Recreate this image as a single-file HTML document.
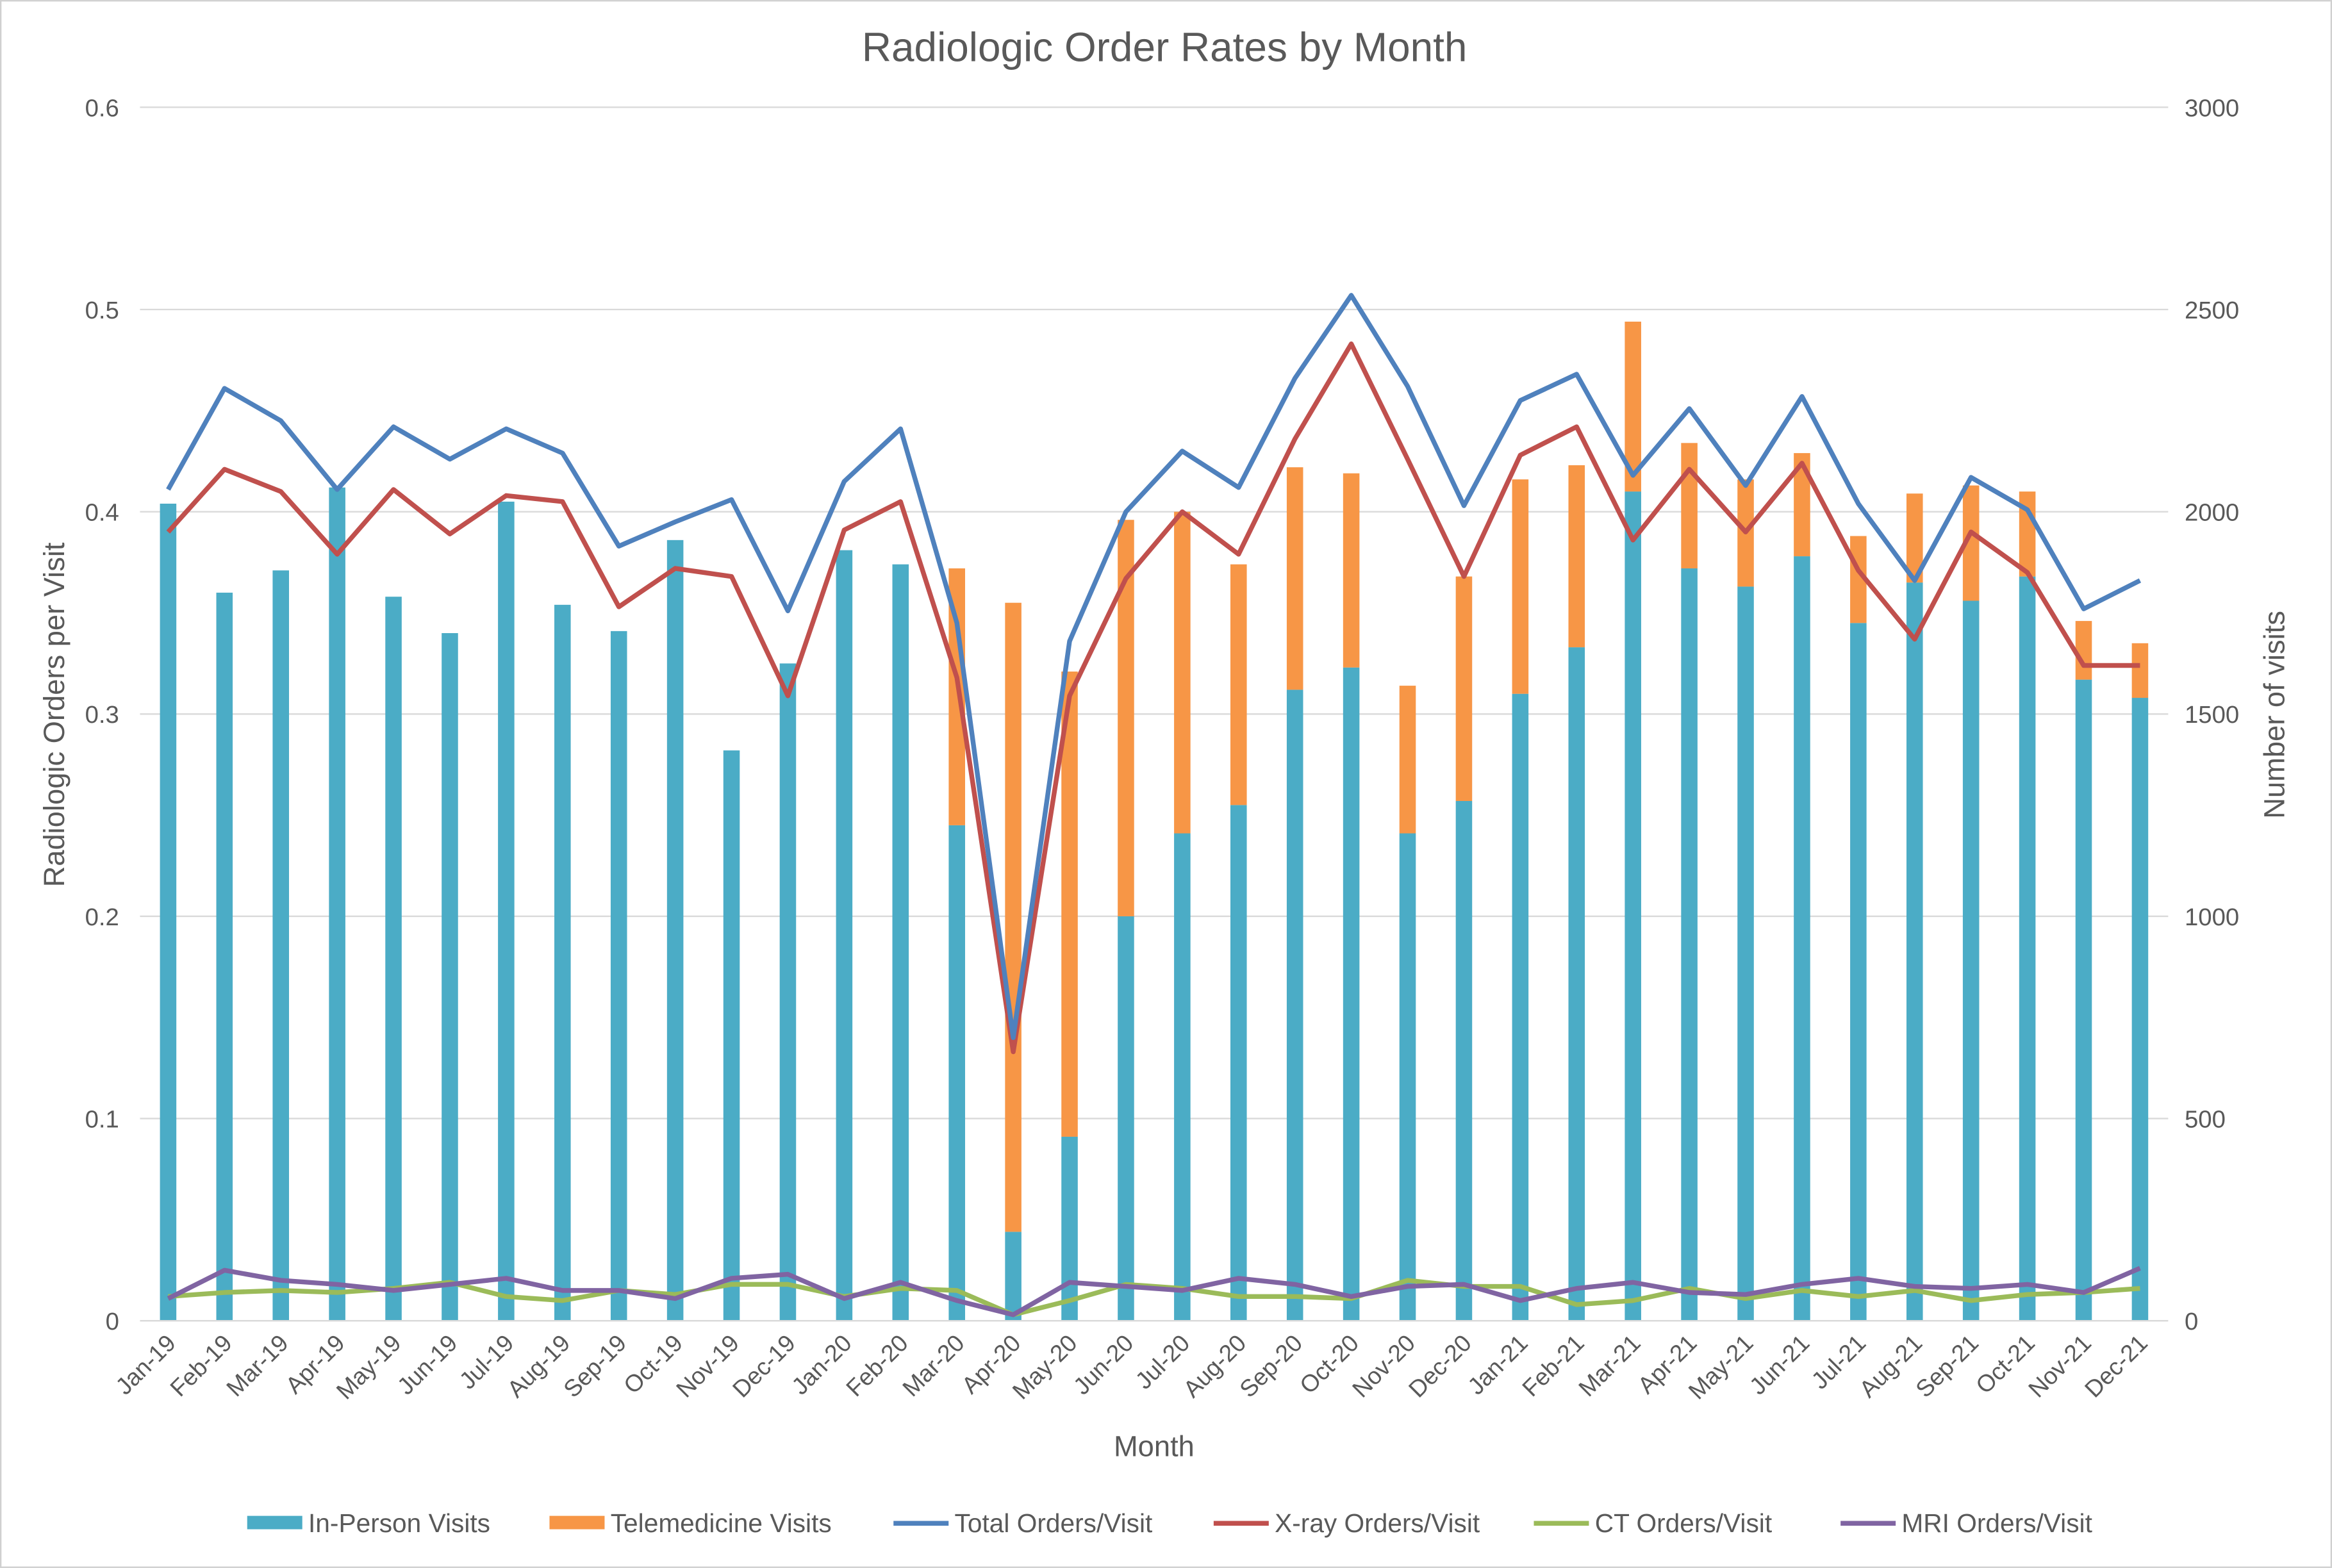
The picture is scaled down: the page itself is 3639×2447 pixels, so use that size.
<!DOCTYPE html>
<html><head><meta charset="utf-8"><style>
html,body{margin:0;padding:0;background:#fff;}
svg{display:block;font-family:"Liberation Sans",Arial,sans-serif;}
</style></head><body>
<svg id="chart" width="3639" height="2447" viewBox="0 0 1566 1053" xmlns="http://www.w3.org/2000/svg">
<rect x="0.5" y="0.5" width="1565" height="1052" fill="#fff" stroke="#d0d0d0"/>
<text x="782" y="41" text-anchor="middle" font-size="27.5" fill="#595959">Radiologic Order Rates by Month</text>
<g id="grid"></g><g id="bars"></g><g id="lines"></g><g id="axes"></g>
<text transform="translate(43,480) rotate(-90)" text-anchor="middle" font-size="19.5" fill="#595959">Radiologic Orders per Visit</text>
<text transform="translate(1534,480) rotate(-90)" text-anchor="middle" font-size="19.5" fill="#595959">Number of visits</text>
<text x="775" y="978" text-anchor="middle" font-size="19.5" fill="#595959">Month</text>
<g id="legend"></g>
</svg>
<script>
const months=["Jan-19","Feb-19","Mar-19","Apr-19","May-19","Jun-19","Jul-19","Aug-19","Sep-19","Oct-19","Nov-19","Dec-19","Jan-20","Feb-20","Mar-20","Apr-20","May-20","Jun-20","Jul-20","Aug-20","Sep-20","Oct-20","Nov-20","Dec-20","Jan-21","Feb-21","Mar-21","Apr-21","May-21","Jun-21","Jul-21","Aug-21","Sep-21","Oct-21","Nov-21","Dec-21"];
const inPerson=[2020,1800,1855,2060,1790,1700,2025,1770,1705,1930,1410,1625,1905,1870,1225,220,455,1000,1205,1275,1560,1615,1205,1285,1550,1665,2050,1860,1815,1890,1725,1825,1780,1840,1585,1540];
const telemed=[0,0,0,0,0,0,0,0,0,0,0,0,0,0,635,1555,1150,980,795,595,550,480,365,555,530,450,420,310,265,255,215,220,285,210,145,135];
const totalOrders=[0.411,0.461,0.445,0.411,0.442,0.426,0.441,0.429,0.383,0.395,0.406,0.351,0.415,0.441,0.345,0.140,0.336,0.400,0.430,0.412,0.466,0.507,0.462,0.403,0.455,0.468,0.418,0.451,0.413,0.457,0.404,0.366,0.417,0.401,0.352,0.366];
const xray=[0.390,0.421,0.410,0.379,0.411,0.389,0.408,0.405,0.353,0.372,0.368,0.309,0.391,0.405,0.318,0.133,0.309,0.367,0.400,0.379,0.436,0.483,0.426,0.368,0.428,0.442,0.386,0.421,0.390,0.424,0.371,0.337,0.390,0.370,0.324,0.324];
const ct=[0.012,0.014,0.015,0.014,0.016,0.019,0.012,0.010,0.015,0.013,0.018,0.018,0.012,0.016,0.015,0.003,0.010,0.018,0.016,0.012,0.012,0.011,0.020,0.017,0.017,0.008,0.010,0.016,0.011,0.015,0.012,0.015,0.010,0.013,0.014,0.016];
const mri=[0.011,0.025,0.020,0.018,0.015,0.018,0.021,0.015,0.015,0.011,0.021,0.023,0.011,0.019,0.010,0.003,0.019,0.017,0.015,0.021,0.018,0.012,0.017,0.018,0.010,0.016,0.019,0.014,0.013,0.018,0.021,0.017,0.016,0.018,0.014,0.026];
const leftTicks=[0,0.1,0.2,0.3,0.4,0.5,0.6];
const rightTicks=[0,500,1000,1500,2000,2500,3000];
const NS="http://www.w3.org/2000/svg";
const X0=94,X1=1456,Y0=887,Y1=72;
const band=(X1-X0)/months.length;
const xc=i=>X0+band*(i+0.5);
const yL=v=>Y0-(v/0.6)*(Y0-Y1);
const yR=v=>Y0-(v/3000)*(Y0-Y1);
function mk(tag,attrs,parent){const e=document.createElementNS(NS,tag);for(const k in attrs)e.setAttribute(k,attrs[k]);document.getElementById(parent).appendChild(e);return e;}
leftTicks.forEach((t,i)=>{
 const y=yL(t);
 if(t>0){const g=mk('line',{x1:X0,x2:X1,y1:y,y2:y,stroke:'#d9d9d9','stroke-width':1},'grid');
 
 }
 const tx=mk('text',{x:80,y:y+6,'text-anchor':'end','font-size':16.5,fill:'#595959'},'axes');tx.textContent=String(t);
 
 
});
rightTicks.forEach(t=>{
 const tx=mk('text',{x:1467,y:yR(t)+6,'font-size':16.5,fill:'#595959'},'axes');tx.textContent=String(t);
 
 
});
const ax=mk('line',{x1:X0,x2:X1,y1:Y0,y2:Y0,stroke:'#d9d9d9','stroke-width':1},'axes');


months.forEach((m,i)=>{
 const x=xc(i);
 const tx=mk('text',{x:x+6,y:903,'text-anchor':'end','font-size':16,fill:'#595959',transform:`rotate(-45 ${x+6} 903)`},'axes');tx.textContent=m;
 
 
 const bw=11;
 const b1=mk('rect',{x:x-bw/2,y:yR(inPerson[i]),width:bw,height:Y0-yR(inPerson[i]),fill:'#4bacc6'},'bars');
 
 
 if(telemed[i]>0){const top=yR(inPerson[i]+telemed[i]);
 const b2=mk('rect',{x:x-bw/2,y:top,width:bw,height:yR(inPerson[i])-top,fill:'#f79646'},'bars');
 
 }
});
function line(arr,color,name){
 const p=mk('polyline',{points:arr.map((v,i)=>xc(i)+','+yL(v)).join(' '),fill:'none',stroke:color,'stroke-width':3.2,'stroke-linejoin':'round'},'lines');
 
 
}
line(ct,'#9bbb59','line-ct');
line(mri,'#8064a2','line-mri');
line(xray,'#c0504d','line-xray');
line(totalOrders,'#4f81bd','line-total');
const leg=[["In-Person Visits",'#4bacc6',1,166],["Telemedicine Visits",'#f79646',1,369],["Total Orders/Visit",'#4f81bd',0,600],["X-ray Orders/Visit",'#c0504d',0,815],["CT Orders/Visit",'#9bbb59',0,1030],["MRI Orders/Visit",'#8064a2',0,1236]];
leg.forEach(l=>{
 const s=l[2]?mk('rect',{x:l[3],y:1018,width:37,height:9,fill:l[1]},'legend'):mk('line',{x1:l[3],x2:l[3]+37,y1:1023,y2:1023,stroke:l[1],'stroke-width':3.2},'legend');
 
 
 const t=mk('text',{x:l[3]+41,y:1029,'font-size':17.5,fill:'#595959'},'legend');t.textContent=l[0];
 
 
});
</script>
</body></html>
